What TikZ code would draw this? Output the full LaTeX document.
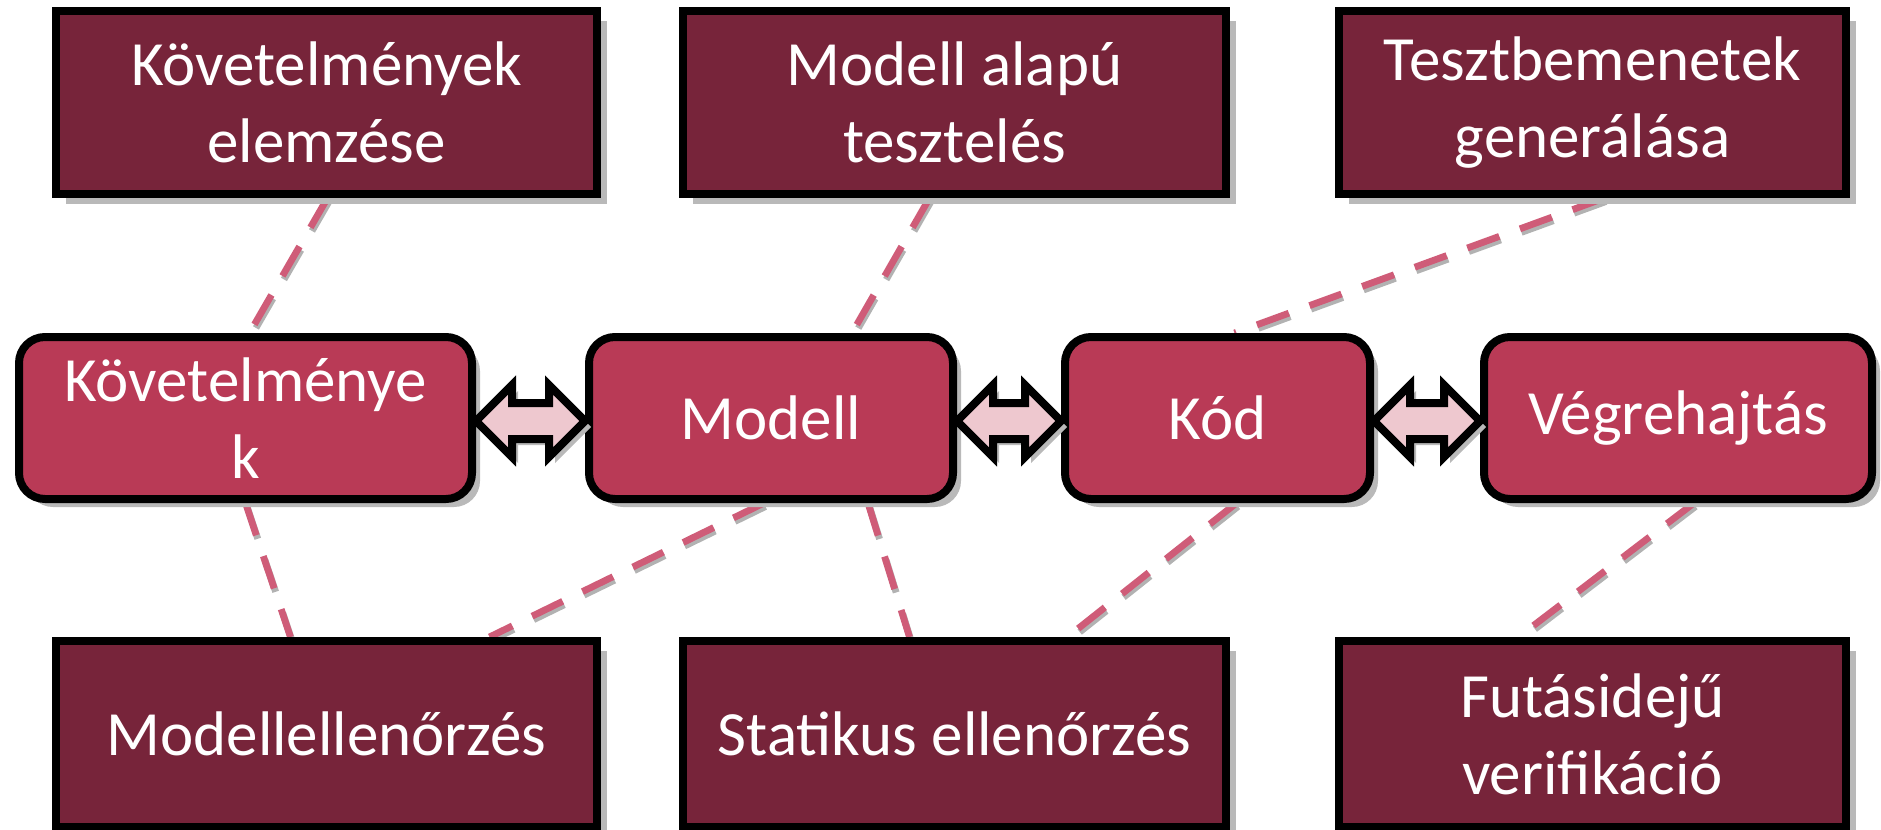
\documentclass[tikz,border=0pt]{standalone}
\usepackage{fontspec}
\setmainfont{Carlito}
\usetikzlibrary{calc,shadows}
\definecolor{darkbox}{HTML}{77243A}
\definecolor{midbox}{HTML}{B93A56}
\definecolor{dashcol}{HTML}{CF5C78}
\definecolor{arrowfill}{HTML}{EEC8CF}
\pgfdeclarelayer{bg}
\pgfsetlayers{bg,main}
\newcommand\dblarr[2]{%
  \draw[arrowstyle] (#1) -- ($(#1)+(36,-36)$) -- ($(#1)+(36,-18)$) -- ($(#2)+(-36,-18)$) -- ($(#2)+(-36,-36)$) -- (#2) -- ($(#2)+(-36,36)$) -- ($(#2)+(-36,18)$) -- ($(#1)+(36,18)$) -- ($(#1)+(36,36)$) -- cycle;}
\newcommand\linkdraw[2]{%
  \draw[linkshadow, transform canvas={shift={(1.5,3.5)}}] (#1) -- (#2);
  \draw[linkline] (#1) -- (#2);}
\begin{document}
\begin{tikzpicture}[x=0.5pt,y=-0.5pt,
  txt/.style={text=white, inner sep=0pt, align=center, font=\fontsize{31.5pt}{38.5pt}\selectfont},
  outerbox/.style={txt, draw=black, line width=4pt, fill=darkbox, rectangle,
    drop shadow={shadow xshift=5pt, shadow yshift=-5pt, fill=gray!55, opacity=1}},
  midboxst/.style={txt, draw=black, line width=4pt, fill=midbox, rectangle, rounded corners=13pt,
    minimum height=81pt,
    drop shadow={shadow xshift=4pt, shadow yshift=-4pt, fill=gray!55, opacity=1}},
  linkline/.style={draw=dashcol, line width=3.4pt, dash pattern=on 17pt off 11pt},
  linkshadow/.style={draw=gray!60, line width=3.4pt, dash pattern=on 17pt off 11pt},
  arrowstyle/.style={draw=black, line width=4pt, fill=arrowfill, line join=miter,
    drop shadow={shadow xshift=3pt, shadow yshift=-3pt, fill=gray!55, opacity=1}}
]
\useasboundingbox (0,0) rectangle (1881,830);

% top boxes
\node[outerbox, minimum width=270.5pt, minimum height=91.5pt] (B1) at (326.5,102.5) {Követelmények\\elemzése};
\node[outerbox, minimum width=271.5pt, minimum height=91.5pt] (B2) at (954.5,102.5) {Modell alapú\\tesztelés};
\node[outerbox, minimum width=253.5pt, minimum height=91.5pt] (B3) at (1592.5,102.5) {Tesztbemenetek\\generálása};

% middle boxes
\node[midboxst, minimum width=226.5pt] (M1) at (245.5,418) {Követelménye\\k};
\node[midboxst, minimum width=182pt] (M2) at (771,418) {Modell};
\node[midboxst, minimum width=152.5pt] (M3) at (1217.5,418) {Kód};
\node[midboxst, minimum width=194pt] (M4) at (1678,418) {Végrehajtás};

% bottom boxes
\node[outerbox, minimum width=270.5pt, minimum height=93pt] (L1) at (326.5,734) {Modellellenőrzés};
\node[outerbox, minimum width=271.5pt, minimum height=93pt] (L2) at (954.5,734) {Statikus ellenőrzés};
\node[outerbox, minimum width=253.5pt, minimum height=93pt] (L3) at (1592.5,734) {Futásidejű\\verifikáció};

% dashed links behind boxes
\begin{pgfonlayer}{bg}
\linkdraw{$(B1.south)+(1,0)$}{$(M1.north)+(4,0)$}
\linkdraw{$(B2.south)+(-25,0)$}{$(M2.north)+(81,0)$}
\linkdraw{$(B3.south)+(12,0)$}{$(M3.north)+(17,0)$}
\linkdraw{$(M1.south)+(0,0)$}{$(L1.north)+(-36,0)$}
\linkdraw{$(M2.south)+(-7,0)$}{$(L1.north)+(163,0)$}
\linkdraw{$(M2.south)+(97,0)$}{$(L2.north)+(-45,0)$}
\linkdraw{$(M3.south)+(19,0)$}{$(L2.north)+(113,0)$}
\linkdraw{$(M4.south)+(16,0)$}{$(L3.north)+(-74,0)$}
\end{pgfonlayer}

% double arrows
\coordinate (a1) at ($(M1.east)+(0,3)$);
\coordinate (b1) at ($(M2.west)+(0,3)$);
\coordinate (a2) at ($(M2.east)+(0,3)$);
\coordinate (b2) at ($(M3.west)+(0,3)$);
\coordinate (a3) at ($(M3.east)+(0,3)$);
\coordinate (b3) at ($(M4.west)+(0,3)$);
\dblarr{a1}{b1}
\dblarr{a2}{b2}
\dblarr{a3}{b3}
\end{tikzpicture}
\end{document}
